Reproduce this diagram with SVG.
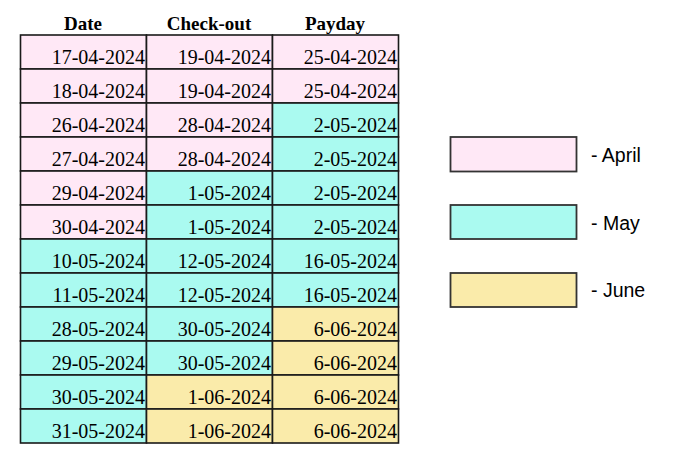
<svg xmlns="http://www.w3.org/2000/svg" width="683" height="465" viewBox="0 0 683 465">
<style>
.apr{fill:#ffe8f6}
.may{fill:#aafaf0}
.jun{fill:#faebaa}
.cell{stroke:#1a1a1a;stroke-width:1.6}
.hd{font-family:"Liberation Serif","Times New Roman",serif;font-size:19px;font-weight:bold;fill:#000;text-anchor:middle}
.t{font-family:"Liberation Serif","Times New Roman",serif;font-size:20px;fill:#000;text-anchor:end}
.lg{font-family:"Liberation Sans",Arial,sans-serif;font-size:19.5px;fill:#000}
.box{stroke:#333;stroke-width:1.8}
</style>
<rect width="683" height="465" fill="#fff"/>
<g id="header">
<text class="hd" x="83" y="30">Date</text>
<text class="hd" x="209" y="30">Check-out</text>
<text class="hd" x="335" y="30">Payday</text>
</g>
<g id="table">
<g id="row1">
<rect class="cell apr" x="20.5" y="35" width="126" height="34"/><rect class="cell apr" x="146.5" y="35" width="126" height="34"/><rect class="cell apr" x="272.5" y="35" width="126" height="34"/>
<text class="t" x="145" y="64">17-04-2024</text><text class="t" x="271" y="64">19-04-2024</text><text class="t" x="397" y="64">25-04-2024</text>
</g>
<g id="row2">
<rect class="cell apr" x="20.5" y="69" width="126" height="34"/><rect class="cell apr" x="146.5" y="69" width="126" height="34"/><rect class="cell apr" x="272.5" y="69" width="126" height="34"/>
<text class="t" x="145" y="98">18-04-2024</text><text class="t" x="271" y="98">19-04-2024</text><text class="t" x="397" y="98">25-04-2024</text>
</g>
<g id="row3">
<rect class="cell apr" x="20.5" y="103" width="126" height="34"/><rect class="cell apr" x="146.5" y="103" width="126" height="34"/><rect class="cell may" x="272.5" y="103" width="126" height="34"/>
<text class="t" x="145" y="132">26-04-2024</text><text class="t" x="271" y="132">28-04-2024</text><text class="t" x="397" y="132">2-05-2024</text>
</g>
<g id="row4">
<rect class="cell apr" x="20.5" y="137" width="126" height="34"/><rect class="cell apr" x="146.5" y="137" width="126" height="34"/><rect class="cell may" x="272.5" y="137" width="126" height="34"/>
<text class="t" x="145" y="166">27-04-2024</text><text class="t" x="271" y="166">28-04-2024</text><text class="t" x="397" y="166">2-05-2024</text>
</g>
<g id="row5">
<rect class="cell apr" x="20.5" y="171" width="126" height="34"/><rect class="cell may" x="146.5" y="171" width="126" height="34"/><rect class="cell may" x="272.5" y="171" width="126" height="34"/>
<text class="t" x="145" y="200">29-04-2024</text><text class="t" x="271" y="200">1-05-2024</text><text class="t" x="397" y="200">2-05-2024</text>
</g>
<g id="row6">
<rect class="cell apr" x="20.5" y="205" width="126" height="34"/><rect class="cell may" x="146.5" y="205" width="126" height="34"/><rect class="cell may" x="272.5" y="205" width="126" height="34"/>
<text class="t" x="145" y="234">30-04-2024</text><text class="t" x="271" y="234">1-05-2024</text><text class="t" x="397" y="234">2-05-2024</text>
</g>
<g id="row7">
<rect class="cell may" x="20.5" y="239" width="126" height="34"/><rect class="cell may" x="146.5" y="239" width="126" height="34"/><rect class="cell may" x="272.5" y="239" width="126" height="34"/>
<text class="t" x="145" y="268">10-05-2024</text><text class="t" x="271" y="268">12-05-2024</text><text class="t" x="397" y="268">16-05-2024</text>
</g>
<g id="row8">
<rect class="cell may" x="20.5" y="273" width="126" height="34"/><rect class="cell may" x="146.5" y="273" width="126" height="34"/><rect class="cell may" x="272.5" y="273" width="126" height="34"/>
<text class="t" x="145" y="302">11-05-2024</text><text class="t" x="271" y="302">12-05-2024</text><text class="t" x="397" y="302">16-05-2024</text>
</g>
<g id="row9">
<rect class="cell may" x="20.5" y="307" width="126" height="34"/><rect class="cell may" x="146.5" y="307" width="126" height="34"/><rect class="cell jun" x="272.5" y="307" width="126" height="34"/>
<text class="t" x="145" y="336">28-05-2024</text><text class="t" x="271" y="336">30-05-2024</text><text class="t" x="397" y="336">6-06-2024</text>
</g>
<g id="row10">
<rect class="cell may" x="20.5" y="341" width="126" height="34"/><rect class="cell may" x="146.5" y="341" width="126" height="34"/><rect class="cell jun" x="272.5" y="341" width="126" height="34"/>
<text class="t" x="145" y="370">29-05-2024</text><text class="t" x="271" y="370">30-05-2024</text><text class="t" x="397" y="370">6-06-2024</text>
</g>
<g id="row11">
<rect class="cell may" x="20.5" y="375" width="126" height="34"/><rect class="cell jun" x="146.5" y="375" width="126" height="34"/><rect class="cell jun" x="272.5" y="375" width="126" height="34"/>
<text class="t" x="145" y="404">30-05-2024</text><text class="t" x="271" y="404">1-06-2024</text><text class="t" x="397" y="404">6-06-2024</text>
</g>
<g id="row12">
<rect class="cell may" x="20.5" y="409" width="126" height="34"/><rect class="cell jun" x="146.5" y="409" width="126" height="34"/><rect class="cell jun" x="272.5" y="409" width="126" height="34"/>
<text class="t" x="145" y="438">31-05-2024</text><text class="t" x="271" y="438">1-06-2024</text><text class="t" x="397" y="438">6-06-2024</text>
</g>
</g>
<g id="legend-april">
<rect class="box apr" x="450.5" y="137" width="126" height="34.5"/>
<text class="lg" x="591" y="162">- April</text>
</g>
<g id="legend-may">
<rect class="box may" x="450.5" y="205" width="126" height="34"/>
<text class="lg" x="591" y="230">- May</text>
</g>
<g id="legend-june">
<rect class="box jun" x="450.5" y="273" width="126" height="34"/>
<text class="lg" x="591" y="297">- June</text>
</g>
<g id="connectors"/>
</svg>
